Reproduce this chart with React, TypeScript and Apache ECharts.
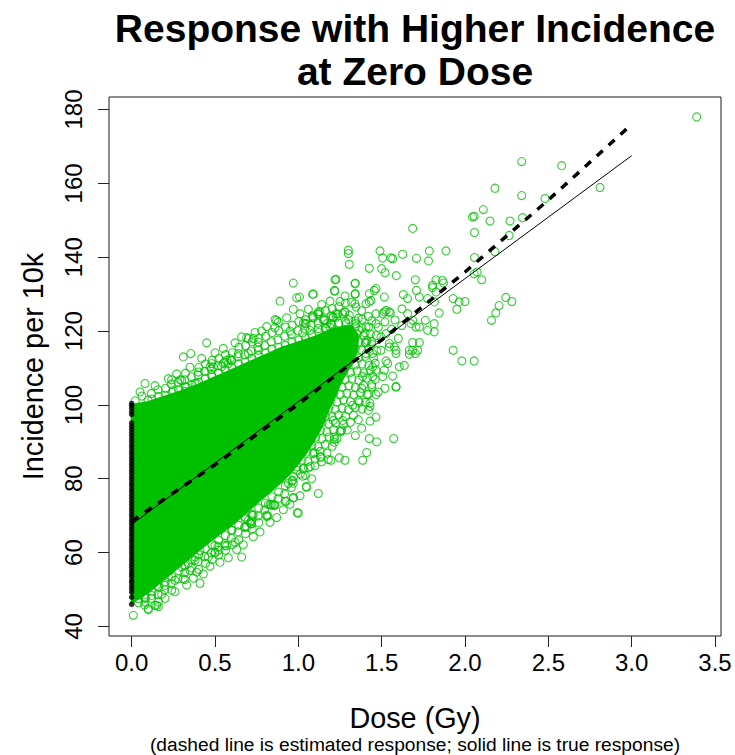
import React, { useEffect, useRef } from "react";
import * as echarts from "echarts";

const TITLE_LINES = ["Response with Higher Incidence", "at Zero Dose"];
const X_TITLE = "Dose (Gy)";
const Y_TITLE = "Incidence per 10k";
const SUBTITLE = "(dashed line is estimated response; solid line is true response)";

const X_TICKS = [0, 0.5, 1, 1.5, 2, 2.5, 3, 3.5];
const X_TICK_LABELS = ["0.0", "0.5", "1.0", "1.5", "2.0", "2.5", "3.0", "3.5"];
const Y_TICKS = [40, 60, 80, 100, 120, 140, 160, 180];
const Y_TICK_LABELS = ["40", "60", "80", "100", "120", "140", "160", "180"];

// True (solid) and estimated (dashed) response curves
const TRUE_LINE: [number, number][] = [[0, 67.6], [3, 167.5]];
const EST_LINE: [number, number][] = [
  [0, 68.5], [0.5, 83.8], [1, 100.2], [1.5, 117.6], [2, 136.0], [2.5, 155.5], [3, 176.0],
];

// Outline of the region where the green circles overlap into a solid mass
const CORE_REGION: [number, number][] = [
  [0, 46.5], [0.06, 48], [0.12, 50], [0.2, 53], [0.28, 56], [0.36, 59], [0.44, 62], [0.52, 64.8],
  [0.6, 67.5], [0.68, 70.5], [0.76, 73.8], [0.84, 76.8], [0.92, 80], [0.98, 83], [1.04, 86.5],
  [1.09, 90], [1.14, 94], [1.18, 98.5], [1.22, 102.5], [1.26, 106.5], [1.31, 110.5], [1.35, 114.5],
  [1.36, 118.5], [1.32, 121.5], [1.2, 120.5], [1.1, 118.5], [1.0, 117], [0.9, 115.5], [0.8, 113.5],
  [0.7, 111.5], [0.6, 109.5], [0.5, 107.5], [0.4, 105.5], [0.3, 103.8], [0.2, 102.3], [0.1, 100.8],
  [0, 100],
];

// Individual green circles: outliers and the scattered fringe of the cloud
const GREEN_POINTS: [number, number][] = [
  [3.39, 178.0], [2.34, 165.9], [2.58, 164.8], [2.18, 158.7], [2.34, 156.7], [2.81, 158.9], [2.48, 155.9],
  [2.045, 150.9], [2.055, 151.1], [2.11, 152.9], [2.15, 149.8], [2.27, 149.8], [2.345, 150.7], [2.057, 146.7],
  [2.265, 145.9], [1.686, 147.8], [2.18, 141.5], [2.057, 139.9], [2.073, 136.0], [2.1, 133.9], [2.055, 135.5],
  [1.3, 141.9], [1.3, 141.0], [1.306, 138.1], [1.226, 134.0], [1.216, 131.0], [1.49, 141.7], [1.506, 139.8],
  [1.556, 139.8], [1.566, 139.6], [1.626, 140.8], [1.709, 139.7], [1.786, 141.7], [1.886, 141.7], [1.781, 139.0],
  [1.426, 137.0], [1.5, 136.9], [1.52, 135.8], [1.588, 135.0], [1.342, 133.0], [1.702, 133.9], [1.826, 133.9],
  [1.865, 133.7], [1.871, 133.0], [1.806, 132.4], [1.342, 130.1], [1.426, 130.1], [1.456, 131.0], [1.63, 129.9],
  [1.655, 128.8], [1.709, 131.0], [1.805, 131.8], [1.929, 128.8], [1.965, 127.9], [2.0, 128.0], [1.951, 125.9],
  [2.245, 129.1], [2.281, 128.0], [2.205, 126.9], [2.185, 124.9], [2.159, 122.9], [1.845, 124.9], [1.762, 122.9],
  [1.815, 122.0], [1.726, 121.1], [1.676, 122.0], [1.622, 126.0], [1.516, 125.2], [1.552, 124.9], [1.929, 114.8],
  [1.981, 111.9], [2.055, 111.9], [1.686, 116.9], [1.726, 116.9], [1.702, 113.9], [1.666, 114.8], [1.636, 110.7],
  [1.586, 113.9], [1.576, 115.7], [1.546, 115.7], [1.516, 109.4], [1.586, 105.0], [1.446, 110.3], [1.466, 109.4],
  [1.506, 107.7], [1.446, 107.7], [1.386, 107.7], [1.412, 117.5], [1.436, 128.3], [1.466, 131.5], [1.516, 129.2],
  [1.726, 129.2], [1.776, 128.8], [1.816, 127.9], [1.826, 130.6], [1.815, 119.8], [1.776, 120.2], [1.656, 124.7],
  [1.686, 122.9], [1.706, 121.1], [1.686, 114.8], [1.666, 113.7], [1.716, 114.8], [1.606, 110.3], [1.526, 111.9],
  [1.536, 111.2], [1.446, 113.9], [1.496, 114.8], [1.526, 119.3], [1.496, 118.4], [1.546, 116.6], [1.586, 114.8],
  [1.406, 117.0], [1.406, 113.9], [1.466, 122.0], [1.466, 124.7], [1.506, 124.7], [1.526, 125.6], [1.546, 125.2],
  [1.426, 127.9], [1.406, 127.4], [1.346, 126.5], [1.306, 124.3], [1.266, 124.7], [1.226, 124.7], [1.206, 123.8],
  [1.116, 124.7], [1.086, 123.8], [1.047, 122.0], [1.027, 119.5], [1.157, 122.9], [1.196, 122.0], [1.166, 120.7],
  [1.226, 120.2], [1.286, 122.0], [1.346, 122.0], [1.366, 120.2], [1.406, 121.1], [1.086, 130.0], [1.007, 129.2],
  [1.25, 128.0], [1.28, 129.5], [1.32, 127.8], [1.38, 125.5], [1.42, 124.0], [1.36, 123.5], [1.3, 119.0],
  [1.4, 119.5], [1.44, 116.5], [1.48, 121.0], [1.52, 122.5], [1.56, 120.5], [1.6, 118.0], [1.62, 121.5],
  [1.58, 123.0], [1.38, 104.5], [1.44, 105.5], [1.48, 103.5], [1.52, 104.5], [1.42, 98.5], [1.36, 96.0],
  [1.586, 104.8], [1.566, 107.8], [1.466, 102.8], [1.412, 102.8], [1.43, 100.5], [1.43, 99.6], [1.366, 100.7],
  [1.326, 99.9], [1.466, 96.7], [1.43, 95.6], [1.38, 93.7], [1.342, 91.7], [1.426, 90.9], [1.47, 90.0],
  [1.572, 90.9], [1.256, 92.8], [1.26, 93.2], [1.216, 90.7], [1.216, 89.9], [1.41, 87.1], [1.386, 85.0],
  [1.28, 85.0], [1.196, 85.0], [1.266, 95.8], [1.21, 95.8], [1.132, 85.9], [1.096, 87.0], [1.12, 76.0],
  [1.047, 77.9], [1.027, 80.7], [0.966, 79.6], [0.971, 74.9], [0.927, 73.9], [0.993, 70.8], [0.857, 73.0],
  [0.831, 73.0], [0.817, 69.9], [0.723, 70.1], [0.717, 67.8], [0.906, 82.3], [0.927, 83.0], [0.887, 80.4],
  [1.137, 85.9], [1.18, 85.2], [1.246, 85.7], [1.03, 82.7], [1.06, 83.0], [0.99, 82.3], [1.05, 77.7],
  [0.97, 78.8], [1.0, 70.7], [0.97, 74.8], [0.85, 72.8], [0.81, 69.8], [0.73, 70.1], [0.68, 66.9],
  [0.71, 68.0], [1.216, 91.3], [1.08, 80.0], [1.1, 83.5], [0.01, 43.0], [0.1, 44.8], [0.14, 45.7],
  [0.08, 46.6], [0.04, 47.5], [0.24, 49.8], [0.18, 48.7], [0.16, 46.6], [0.31, 52.9], [0.41, 51.7],
  [0.39, 54.7], [0.35, 55.2], [0.38, 58.8], [0.38, 57.9], [0.5, 60.1], [0.52, 60.6], [0.66, 58.8],
  [0.62, 62.8], [0.56, 61.9], [0.5, 61.9], [0.69, 66.9], [0.72, 67.8], [0.68, 69.6], [0.7, 68.7],
  [0.81, 70.1], [0.92, 73.9], [0.86, 72.8], [0.82, 73.0], [0.94, 78.7], [0.79, 76.8], [0.76, 75.5],
  [0.6, 66.0], [0.41, 60.6], [0.46, 58.8], [0.3, 56.1], [0.34, 57.0], [0.22, 53.4], [0.26, 52.5],
  [0.15, 51.1], [0.2, 51.1], [0.08, 47.9], [0.12, 48.4], [0.1, 44.5], [0.15, 45.7], [0.16, 45.4],
  [0.32, 52.7], [0.5, 59.9], [0.57, 61.8], [0.08, 105.8], [0.3, 106.6], [0.25, 103.9], [0.24, 100.8],
  [0.45, 116.8], [0.31, 113.0], [0.355, 113.9], [0.24, 106.8], [0.29, 106.8], [0.32, 103.7], [0.39, 105.8],
  [0.4, 103.7], [0.4, 108.9], [0.21, 100.8], [0.25, 101.2], [0.48, 111.2], [0.47, 110.3], [0.48, 108.0],
  [0.54, 110.4], [0.57, 112.1], [0.59, 112.5], [0.58, 111.2], [0.64, 113.9], [0.7, 113.9], [0.76, 114.8],
  [0.7, 118.0], [0.73, 118.0], [0.76, 117.0], [0.48, 105.8], [0.52, 106.6], [0.59, 107.1], [0.61, 105.8],
  [0.49, 110.3], [0.55, 111.2], [0.6, 112.1], [0.78, 120.0], [0.86, 120.9], [0.86, 123.1], [0.95, 120.0],
  [0.89, 128.1], [0.97, 133.0], [0.99, 129.0], [0.97, 125.9], [1.09, 130.0], [1.03, 122.2], [1.12, 125.2],
  [1.09, 123.6], [1.22, 133.9], [1.22, 130.8], [1.34, 132.8], [1.34, 130.0], [1.34, 127.4], [1.28, 125.2],
  [1.23, 123.8], [1.19, 121.1], [1.15, 122.9], [1.21, 119.1], [1.27, 120.2], [1.07, 120.2], [1.12, 120.7],
  [1.15, 118.4], [0.38, 105.8], [0.33, 104.8], [0.87, 122.9], [0.69, 118.2], [1.04, 122.0], [1.13, 125.2],
  [1.17, 122.0], [1.21, 123.8],
  // band of overlapping circles right of the solid mass
  [0.972, 80.6], [1.012, 81.3], [1.043, 80.9], [0.991, 83.2], [1.031, 82.8], [1.072, 83.3], [1.022, 85.1],
  [1.058, 84.7], [1.101, 85.3], [1.139, 84.6], [1.052, 87.2], [1.088, 86.8], [1.131, 87.4], [1.172, 86.9],
  [1.081, 89.1], [1.118, 88.7], [1.162, 89.3], [1.203, 88.8], [1.104, 91.2], [1.142, 90.8], [1.183, 91.3],
  [1.232, 90.9], [1.132, 93.1], [1.171, 92.7], [1.212, 93.3], [1.251, 92.9], [1.293, 93.2], [1.143, 95.2],
  [1.182, 94.8], [1.223, 95.1], [1.272, 94.7], [1.312, 95.3], [1.163, 97.1], [1.202, 96.8], [1.241, 97.3],
  [1.283, 96.9], [1.331, 97.2], [1.182, 99.2], [1.222, 98.8], [1.262, 99.1], [1.301, 98.7], [1.343, 99.3],
  [1.382, 98.9], [1.193, 101.1], [1.231, 100.8], [1.272, 101.3], [1.312, 100.9], [1.362, 101.2], [1.403, 100.7],
  [1.213, 103.2], [1.252, 102.8], [1.291, 103.1], [1.332, 102.7], [1.372, 103.3], [1.421, 102.9], [1.222, 105.1],
  [1.262, 104.8], [1.303, 105.2], [1.342, 104.7], [1.391, 105.3], [1.441, 104.9], [1.243, 107.2], [1.281, 106.8],
  [1.322, 107.1], [1.363, 106.7], [1.412, 107.3], [1.462, 106.9], [1.272, 109.1], [1.313, 108.8], [1.352, 109.2],
  [1.393, 108.7], [1.432, 109.3], [1.302, 111.2], [1.342, 110.8], [1.382, 111.1], [1.423, 110.7], [1.461, 111.3],
  [1.323, 113.1], [1.362, 112.7], [1.402, 113.2], [1.452, 112.8], [1.342, 115.2], [1.381, 114.8], [1.422, 115.1],
  [1.471, 114.7], [1.363, 117.1], [1.402, 116.8], [1.441, 117.2], [1.352, 119.1], [1.392, 118.7], [1.432, 119.2],
  [1.468, 118.8], [1.341, 121.2], [1.382, 120.8], [1.422, 121.1], [1.302, 123.1], [1.343, 122.7], [1.383, 123.2],
  [1.441, 122.8],
  // band above the solid mass
  [0.021, 101.1], [0.062, 102.4], [0.098, 101.3], [0.121, 101.6], [0.118, 103.1], [0.162, 102.3], [0.158, 104.1],
  [0.201, 102.6], [0.203, 104.5], [0.242, 103.4], [0.238, 105.6], [0.281, 104.1], [0.278, 106.1], [0.322, 104.9],
  [0.318, 106.8], [0.323, 108.6], [0.362, 105.4], [0.358, 107.6], [0.402, 106.1], [0.398, 108.1], [0.403, 110.1],
  [0.442, 107.1], [0.438, 109.1], [0.443, 111.1], [0.482, 107.6], [0.478, 109.6], [0.483, 112.1], [0.522, 108.6],
  [0.518, 110.6], [0.523, 112.6], [0.562, 109.4], [0.558, 111.6], [0.563, 113.6], [0.602, 110.1], [0.598, 112.1],
  [0.603, 114.1], [0.642, 111.1], [0.638, 113.1], [0.643, 115.6], [0.682, 111.6], [0.678, 113.6], [0.683, 116.1],
  [0.722, 112.6], [0.718, 114.6], [0.723, 117.1], [0.762, 113.4], [0.758, 115.6], [0.763, 118.1], [0.802, 114.1],
  [0.798, 116.1], [0.803, 118.6], [0.842, 115.1], [0.838, 117.1], [0.843, 119.6], [0.882, 115.6], [0.878, 117.6],
  [0.883, 120.1], [0.922, 116.1], [0.918, 118.6], [0.923, 121.1], [0.962, 117.1], [0.958, 119.1], [0.963, 121.6],
  [1.002, 117.6], [0.998, 120.1], [1.003, 122.6], [1.042, 118.1], [1.038, 120.6], [1.043, 123.1], [1.082, 119.1],
  [1.078, 121.6], [1.083, 124.1], [1.122, 119.6], [1.118, 122.1], [1.123, 124.6], [1.162, 120.6], [1.158, 123.1],
  [1.163, 125.6], [1.202, 121.6], [1.198, 124.1], [1.203, 126.1], [1.242, 122.1], [1.238, 124.6], [1.243, 126.6],
  [1.282, 122.6], [1.278, 125.1], [1.283, 127.6],
  [0.05, 103.5], [0.14, 105.2], [0.22, 107.1], [0.27, 108.4], [0.35, 110.2], [0.42, 112.6], [0.5, 114.1],
  [0.55, 115.3], [0.62, 116.8], [0.66, 118.4], [0.74, 119.6], [0.81, 121.2], [0.88, 122.4], [0.93, 123.6],
  [1.01, 124.7], [1.06, 125.9], [1.14, 127.2], [1.19, 128.1],
  // band below the solid mass
  [0.041, 46.4], [0.082, 47.6], [0.078, 45.8], [0.122, 49.4], [0.118, 47.6], [0.162, 50.6], [0.158, 48.7],
  [0.202, 52.1], [0.198, 49.9], [0.242, 53.4], [0.238, 51.6], [0.282, 55.1], [0.278, 52.9], [0.322, 56.4],
  [0.318, 54.6], [0.362, 58.1], [0.358, 55.9], [0.402, 59.4], [0.398, 57.6], [0.403, 55.4], [0.442, 61.1],
  [0.438, 58.9], [0.443, 57.1], [0.482, 62.1], [0.478, 59.9], [0.483, 58.1], [0.522, 63.4], [0.518, 61.6],
  [0.523, 59.4], [0.562, 64.6], [0.558, 62.4], [0.563, 60.6], [0.602, 66.1], [0.598, 63.9], [0.603, 62.1],
  [0.642, 67.4], [0.638, 65.6], [0.643, 63.4], [0.682, 69.1], [0.678, 66.9], [0.683, 65.1], [0.722, 70.4],
  [0.718, 68.6], [0.723, 66.4], [0.762, 72.1], [0.758, 69.9], [0.763, 68.1], [0.802, 73.4], [0.798, 71.6],
  [0.842, 75.1], [0.838, 72.9], [0.882, 76.4], [0.878, 74.6], [0.922, 78.1], [0.918, 75.9], [0.962, 79.4],
  [0.958, 77.6],
  [0.2, 47.6], [0.26, 49.4], [0.33, 51.2], [0.37, 53.1], [0.43, 54.2], [0.47, 56.3], [0.53, 57.4],
  [0.58, 58.6], [0.63, 60.8], [0.67, 62.1], [0.73, 64.3], [0.77, 65.6], [0.83, 68.2], [0.87, 69.5],
  [0.91, 71.6], [0.95, 73.1], [1.01, 75.4],
  // circles near the zero-dose column
  [0.04, 98.5], [0.03, 95.8], [0.07, 94.9], [0.13, 92.2], [0.21, 98.5], [0.17, 96.7], [0.16, 100.3],
];

// Black dots stacked at zero dose
const ZERO_DOSE_Y: number[] = [
  46.0, 47.9, 49.3, 50.2, 51.0, 51.9, 52.6, 53.6, 54.3, 55.1, 56.0, 56.8, 57.7, 58.5, 59.4, 60.2,
  61.1, 61.9, 62.8, 63.6, 64.5, 65.3, 66.2, 67.0, 67.9, 68.7, 69.6, 70.4, 71.3, 72.1, 73.0, 73.8,
  74.7, 75.5, 76.4, 77.2, 78.1, 78.9, 79.8, 80.6, 81.5, 82.3, 83.2, 84.0, 84.9, 85.7, 86.6, 87.4,
  88.3, 89.1, 90.0, 90.8, 91.7, 92.5, 93.4, 94.2, 95.1, 97.4, 98.2, 99.1, 99.9, 100.4,
];

const GREEN = "#00c000";
const FONT = '"Liberation Sans", Arial, Helvetica, sans-serif';

export default function App() {
  const ref = useRef<HTMLDivElement>(null);

  useEffect(() => {
    if (!ref.current) return;
    const chart = echarts.init(ref.current, undefined, { renderer: "svg" });
    const plotLeft = 109;
    const plotTop = 97;
    const plotRight = 721;
    const plotBottom = 636;
    const cx = (plotLeft + plotRight) / 2;
    const cy = (plotTop + plotBottom) / 2;

    chart.setOption({
      animation: false,
      backgroundColor: "#ffffff",
      grid: {
        left: plotLeft,
        top: plotTop,
        width: plotRight - plotLeft,
        height: plotBottom - plotTop,
        show: true,
        borderColor: "#1a1a1a",
        borderWidth: 1,
        backgroundColor: "transparent",
        containLabel: false,
      },
      xAxis: {
        type: "value",
        min: -0.136,
        max: 3.536,
        axisLine: { show: false, onZero: false },
        splitLine: { show: false },
        axisTick: {
          show: true,
          customValues: X_TICKS,
          length: 11,
          inside: false,
          lineStyle: { color: "#222", width: 1 },
        },
        axisLabel: {
          show: true,
          customValues: X_TICKS,
          formatter: (v: number) => X_TICK_LABELS[X_TICKS.indexOf(v)] ?? String(v),
          fontSize: 24,
          fontFamily: FONT,
          color: "#000",
          margin: 14,
        },
      },
      yAxis: {
        type: "value",
        min: 37.4,
        max: 183.4,
        axisLine: { show: false, onZero: false },
        splitLine: { show: false },
        axisTick: {
          show: true,
          customValues: Y_TICKS,
          length: 11,
          inside: false,
          lineStyle: { color: "#222", width: 1 },
        },
        axisLabel: {
          show: true,
          customValues: Y_TICKS,
          formatter: (v: number) => Y_TICK_LABELS[Y_TICKS.indexOf(v)] ?? String(v),
          rotate: 90,
          fontSize: 24,
          fontFamily: FONT,
          color: "#000",
          margin: 24,
        },
      },
      graphic: [
        {
          type: "text",
          x: cx,
          y: 28.5,
          style: {
            text: TITLE_LINES[0],
            font: `bold 39px ${FONT}`,
            textAlign: "center",
            textVerticalAlign: "middle",
            fill: "#000",
          },
        },
        {
          type: "text",
          x: cx,
          y: 71.5,
          style: {
            text: TITLE_LINES[1],
            font: `bold 39px ${FONT}`,
            textAlign: "center",
            textVerticalAlign: "middle",
            fill: "#000",
          },
        },
        {
          type: "text",
          x: cx,
          y: 718,
          style: {
            text: X_TITLE,
            font: `28.8px ${FONT}`,
            textAlign: "center",
            textVerticalAlign: "middle",
            fill: "#000",
          },
        },
        {
          type: "text",
          x: cx,
          y: 744,
          style: {
            text: SUBTITLE,
            font: `19.2px ${FONT}`,
            textAlign: "center",
            textVerticalAlign: "middle",
            fill: "#000",
          },
        },
        {
          type: "text",
          x: 33,
          y: cy,
          rotation: Math.PI / 2,
          style: {
            text: Y_TITLE,
            font: `28.8px ${FONT}`,
            textAlign: "center",
            textVerticalAlign: "middle",
            fill: "#000",
          },
        },
      ],
      series: [
        {
          type: "custom",
          name: "core",
          silent: true,
          z: 1,
          data: [CORE_REGION[0]],
          renderItem: (_params: any, api: any) => ({
            type: "polygon",
            shape: { points: CORE_REGION.map((p) => api.coord(p)) },
            style: { fill: GREEN, stroke: GREEN, lineWidth: 2 },
          }),
        },
        {
          type: "scatter",
          name: "observations",
          z: 2,
          symbol: "circle",
          symbolSize: 8,
          data: GREEN_POINTS,
          itemStyle: { color: "rgba(0,0,0,0)", borderColor: GREEN, borderWidth: 1.1 },
          silent: true,
        },
        {
          type: "scatter",
          name: "zero dose",
          z: 3,
          symbol: "circle",
          symbolSize: 5.5,
          data: ZERO_DOSE_Y.map((y) => [0, y]),
          itemStyle: { color: "#000" },
          silent: true,
        },
        {
          type: "line",
          name: "true response",
          z: 4,
          data: TRUE_LINE,
          showSymbol: false,
          symbol: "none",
          lineStyle: { color: "#000", width: 1 },
          silent: true,
        },
        {
          type: "line",
          name: "estimated response",
          z: 5,
          data: EST_LINE,
          showSymbol: false,
          symbol: "none",
          lineStyle: { color: "#000", width: 3.5, type: [8, 8] },
          silent: true,
        },
      ],
    });

    return () => chart.dispose();
  }, []);

  return (
    <div
      ref={ref}
      style={{ position: "fixed", left: 0, top: 0, width: 735, height: 755, background: "#fff" }}
    />
  );
}
